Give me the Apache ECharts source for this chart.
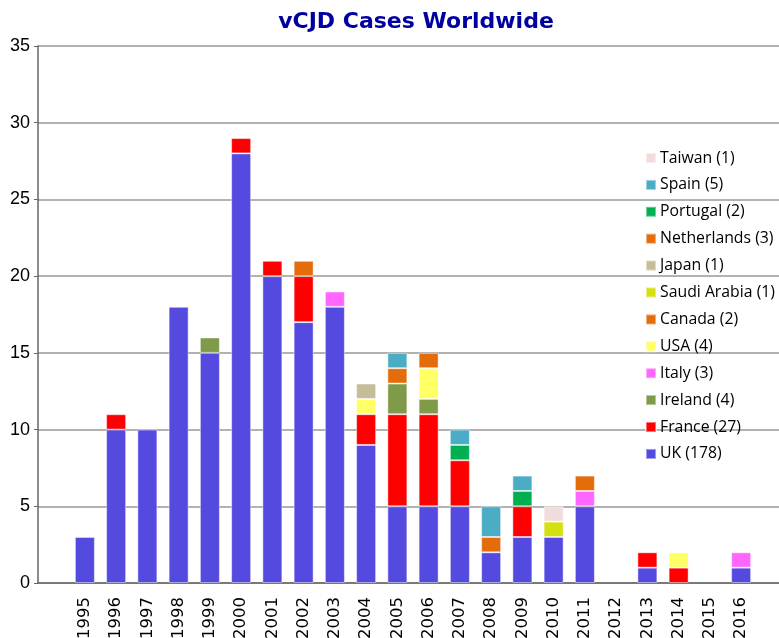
<!DOCTYPE html>
<html><head><meta charset="utf-8">
<script src="https://cdn.jsdelivr.net/npm/echarts@6/dist/echarts.min.js"></script>
<style>html,body{margin:0;padding:0;background:#fff}#c{width:779px;height:638px}</style>
</head><body><div id="c"></div>
<script>
const categories = ['', '1995','1996','1997','1998','1999','2000','2001','2002','2003','2004','2005','2006','2007','2008','2009','2010','2011','2012','2013','2014','2015','2016', ''];
const UK          = [0, 3,10,10,18,15,28,20,17,18, 9, 5, 5, 5, 2, 3, 3, 5, 0, 1, 0, 0, 1, 0];
const France      = [0, 0, 1, 0, 0, 0, 1, 1, 3, 0, 2, 6, 6, 3, 0, 2, 0, 0, 0, 1, 1, 0, 0, 0];
const Ireland     = [0, 0, 0, 0, 0, 1, 0, 0, 0, 0, 0, 2, 1, 0, 0, 0, 0, 0, 0, 0, 0, 0, 0, 0];
const Italy       = [0, 0, 0, 0, 0, 0, 0, 0, 0, 1, 0, 0, 0, 0, 0, 0, 0, 1, 0, 0, 0, 0, 1, 0];
const USA         = [0, 0, 0, 0, 0, 0, 0, 0, 0, 0, 1, 0, 2, 0, 0, 0, 0, 0, 0, 0, 1, 0, 0, 0];
const Canada      = [0, 0, 0, 0, 0, 0, 0, 0, 1, 0, 0, 0, 0, 0, 0, 0, 0, 1, 0, 0, 0, 0, 0, 0];
const SaudiArabia = [0, 0, 0, 0, 0, 0, 0, 0, 0, 0, 0, 0, 0, 0, 0, 0, 1, 0, 0, 0, 0, 0, 0, 0];
const Japan       = [0, 0, 0, 0, 0, 0, 0, 0, 0, 0, 1, 0, 0, 0, 0, 0, 0, 0, 0, 0, 0, 0, 0, 0];
const Netherlands = [0, 0, 0, 0, 0, 0, 0, 0, 0, 0, 0, 1, 1, 0, 1, 0, 0, 0, 0, 0, 0, 0, 0, 0];
const Portugal    = [0, 0, 0, 0, 0, 0, 0, 0, 0, 0, 0, 0, 0, 1, 0, 1, 0, 0, 0, 0, 0, 0, 0, 0];
const Spain       = [0, 0, 0, 0, 0, 0, 0, 0, 0, 0, 0, 1, 0, 1, 2, 1, 0, 0, 0, 0, 0, 0, 0, 0];
const Taiwan      = [0, 0, 0, 0, 0, 0, 0, 0, 0, 0, 0, 0, 0, 0, 0, 0, 1, 0, 0, 0, 0, 0, 0, 0];
const yTicks = [0,5,10,15,20,25,30,35];

const seriesDefs = [
  ['UK (178)', UK, '#554ADF'],
  ['France (27)', France, '#FF0000'],
  ['Ireland (4)', Ireland, '#7F9A48'],
  ['Italy (3)', Italy, '#FF66FF'],
  ['USA (4)', USA, '#FFFF66'],
  ['Canada (2)', Canada, '#E46C0A'],
  ['Saudi Arabia (1)', SaudiArabia, '#D4E00F'],
  ['Japan (1)', Japan, '#C4BD97'],
  ['Netherlands (3)', Netherlands, '#E46C0A'],
  ['Portugal (2)', Portugal, '#00B050'],
  ['Spain (5)', Spain, '#4BACC6'],
  ['Taiwan (1)', Taiwan, '#F2DCDB']
];

const chart = echarts.init(document.getElementById('c'), null, {renderer:'canvas'});
chart.setOption({
  animation:false,
  backgroundColor:'#fff',
  title:{text:'vCJD Cases Worldwide', left:411, top:6, textAlign:'center',
    textStyle:{fontFamily:'"Comic Sans MS","DejaVu Sans",sans-serif', fontWeight:'bold', fontSize:22, color:'#0000A0'}},
  legend:{orient:'vertical', left:640, top:145, itemWidth:10, itemHeight:10, itemGap:10.9,
    icon:'rect', data: seriesDefs.map(s=>s[0]).reverse(),
    textStyle:{fontFamily:'"Open Sans","Noto Sans",sans-serif', fontSize:15.8, lineHeight:16, color:'#000', padding:[0,0,0,-1]}},
  grid:{left:38, right:-9, top:46, bottom:55, containLabel:false, outerBoundsMode:'none'},
  xAxis:{type:'category', data:categories,
    axisLine:{lineStyle:{color:'#666', width:1.5}},
    axisTick:{show:false},
    axisLabel:{rotate:90, interval:0, margin:14, fontSize:16.5, color:'#000', fontFamily:'"DejaVu Sans",sans-serif'}},
  yAxis:{type:'value', min:0, max:35, interval:5,
    axisLine:{show:true, lineStyle:{color:'#666', width:1.5}},
    axisTick:{show:true, length:4, inside:false, lineStyle:{color:'#666'}},
    axisLabel:{fontSize:18, color:'#000', margin:8, fontFamily:'"Liberation Sans",sans-serif',
      formatter:v=> yTicks.includes(v) ? String(v) : ''},
    splitLine:{lineStyle:{color:'#999', width:1.5}}},
  series: seriesDefs.map(([name, data, color]) => ({
    name, type:'bar', stack:'total', data: data.map(v => v === 0 ? '-' : v), barWidth:'64%',
    itemStyle:{color, borderColor:'rgba(255,255,255,0.45)', borderWidth:1}
  }))
});
</script></body></html>
